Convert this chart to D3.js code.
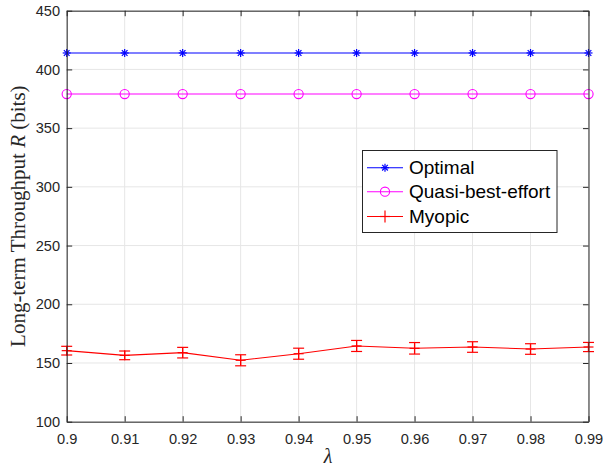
<!DOCTYPE html>
<html>
<head>
<meta charset="utf-8">
<script src="https://cdn.jsdelivr.net/npm/d3@7"></script>
<style>
  html, body { margin: 0; padding: 0; background: #fff; }
  svg { display: block; }
</style>
</head>
<body>
<svg id="chart" width="603" height="468"></svg>
<script>
// ---- data ----
const lambdas = [0.9, 0.91, 0.92, 0.93, 0.94, 0.95, 0.96, 0.97, 0.98, 0.99];
const optimal = [414, 414, 414, 414, 414, 414, 414, 414, 414, 414];
const quasiBestEffort = [379, 379, 379, 379, 379, 379, 379, 379, 379, 379];
const myopic = [160.5, 156.5, 158.8, 152.3, 157.9, 164.5, 162.5, 163.6, 161.9, 163.6];
const myopicErr = [3.7, 3.7, 4.5, 4.7, 4.7, 4.7, 4.9, 4.5, 4.5, 3.9];
const xTicks = [0.9, 0.91, 0.92, 0.93, 0.94, 0.95, 0.96, 0.97, 0.98, 0.99];
const xTickLabels = ["0.9", "0.91", "0.92", "0.93", "0.94", "0.95", "0.96", "0.97", "0.98", "0.99"];
const yTicks = [100, 150, 200, 250, 300, 350, 400, 450];
const seriesNames = ["Optimal", "Quasi-best-effort", "Myopic"];

// ---- layout ----
const L = 66.7, R = 588.5, T = 10.7, B = 421.7;
const svg = d3.select("#chart");
const x = d3.scaleLinear().domain([0.9, 0.99]).range([L, R]);
const y = d3.scaleLinear().domain([100, 450]).range([B, T]);
const axisColor = "#262626";
const gridColor = "#e6e6e6";

// grid
const grid = svg.append("g");
grid.selectAll(".gx").data(xTicks).join("line")
  .attr("x1", d => x(d)).attr("x2", d => x(d)).attr("y1", T).attr("y2", B)
  .attr("stroke", gridColor).attr("stroke-width", 1);
grid.selectAll(".gy").data(yTicks).join("line")
  .attr("x1", L).attr("x2", R).attr("y1", d => y(d)).attr("y2", d => y(d))
  .attr("stroke", gridColor).attr("stroke-width", 1);

// axes (box, ticks inward)
const tickLen = 5.5;
const xAxisB = d3.axisBottom(x).tickValues(xTicks).tickSize(-tickLen).tickSizeOuter(0)
  .tickFormat((d, i) => xTickLabels[i]).tickPadding(12);
const xAxisT = d3.axisTop(x).tickValues(xTicks).tickSize(-tickLen).tickSizeOuter(0).tickFormat("");
const yAxisL = d3.axisLeft(y).tickValues(yTicks).tickSize(-tickLen).tickSizeOuter(0).tickPadding(6.7);
const yAxisR = d3.axisRight(y).tickValues(yTicks).tickSize(-tickLen).tickSizeOuter(0).tickFormat("");

function styleAxis(g) {
  g.select(".domain").attr("stroke", axisColor).attr("stroke-width", 1);
  g.selectAll(".tick line").attr("stroke", axisColor);
  g.selectAll(".tick text").attr("fill", axisColor)
    .attr("font-family", "'Liberation Sans', Arial, sans-serif").attr("font-size", "14.6px");
}

// ---- series ----
const lineGen = d3.line().x((d, i) => x(lambdas[i])).y(d => y(d));

function star(g, cx, cy, r, color) {
  const dirs = [[1, 0], [0, 1], [0.7071, 0.7071], [0.7071, -0.7071]];
  dirs.forEach(([dx, dy]) => {
    g.append("line").attr("x1", cx - dx * r).attr("y1", cy - dy * r)
      .attr("x2", cx + dx * r).attr("y2", cy + dy * r)
      .attr("stroke", color).attr("stroke-width", 1.2);
  });
}

// Optimal
svg.append("path").datum(optimal).attr("d", lineGen)
  .attr("fill", "none").attr("stroke", "#0000ff").attr("stroke-width", 1.1);
const optG = svg.append("g");
optimal.forEach((v, i) => star(optG, x(lambdas[i]), y(v), 4, "#0000ff"));

// Quasi-best-effort
svg.append("path").datum(quasiBestEffort).attr("d", lineGen)
  .attr("fill", "none").attr("stroke", "#ff00ff").attr("stroke-width", 1.1);
svg.append("g").selectAll("circle").data(quasiBestEffort).join("circle")
  .attr("cx", (d, i) => x(lambdas[i])).attr("cy", d => y(d)).attr("r", 4.6)
  .attr("fill", "none").attr("stroke", "#ff00ff").attr("stroke-width", 1.1);

// Myopic with error bars
svg.append("path").datum(myopic).attr("d", lineGen)
  .attr("fill", "none").attr("stroke", "#ff0000").attr("stroke-width", 1.1);
const myG = svg.append("g").attr("stroke", "#ff0000").attr("stroke-width", 1.2);
myopic.forEach((v, i) => {
  const cx = x(lambdas[i]);
  const yt = y(v + myopicErr[i]), yb = y(v - myopicErr[i]), cy = y(v);
  const cw = 5.5;
  myG.append("line").attr("x1", cx).attr("x2", cx).attr("y1", yt).attr("y2", yb);
  myG.append("line").attr("x1", cx - cw).attr("x2", cx + cw).attr("y1", yt).attr("y2", yt);
  myG.append("line").attr("x1", cx - cw).attr("x2", cx + cw).attr("y1", yb).attr("y2", yb);
  // plus marker
  myG.append("line").attr("x1", cx - 5).attr("x2", cx + 5).attr("y1", cy).attr("y2", cy);
  myG.append("line").attr("x1", cx).attr("x2", cx).attr("y1", cy - 5).attr("y2", cy + 5);
});

// axes on top
svg.append("g").attr("transform", `translate(0,${B})`).call(xAxisB).call(styleAxis);
svg.append("g").attr("transform", `translate(0,${T})`).call(xAxisT).call(styleAxis);
svg.append("g").attr("transform", `translate(${L},0)`).call(yAxisL).call(styleAxis);
svg.append("g").attr("transform", `translate(${R},0)`).call(yAxisR).call(styleAxis);

// axis labels
svg.append("text")
  .attr("transform", `translate(25,${(T + B) / 2}) rotate(-90)`)
  .attr("text-anchor", "middle")
  .attr("font-family", "'Liberation Serif', 'Times New Roman', serif")
  .attr("font-size", "21px").attr("fill", axisColor)
  .html('Long-term Throughput <tspan font-style="italic">R</tspan> (bits)');
svg.append("text")
  .attr("x", 328).attr("y", 463)
  .attr("text-anchor", "middle")
  .attr("font-family", "'Liberation Serif', 'Times New Roman', serif")
  .attr("font-style", "italic")
  .attr("font-size", "20px").attr("fill", axisColor)
  .text("λ");

// ---- legend ----
const lg = svg.append("g");
lg.append("rect").attr("x", 362.5).attr("y", 150.5).attr("width", 194.5).attr("height", 82)
  .attr("fill", "#fff").attr("stroke", axisColor).attr("stroke-width", 1);
const legendY = [167.7, 191.7, 216.5];
const legendColors = ["#0000ff", "#ff00ff", "#ff0000"];
seriesNames.forEach((name, i) => {
  const ly = legendY[i];
  lg.append("line").attr("x1", 367).attr("x2", 403).attr("y1", ly).attr("y2", ly)
    .attr("stroke", legendColors[i]).attr("stroke-width", 1.1);
  const mx = 385;
  if (i === 0) star(lg, mx, ly, 4, legendColors[i]);
  else if (i === 1) lg.append("circle").attr("cx", mx).attr("cy", ly).attr("r", 4.6)
    .attr("fill", "none").attr("stroke", legendColors[i]).attr("stroke-width", 1.1);
  else {
    lg.append("line").attr("x1", mx - 5).attr("x2", mx + 5).attr("y1", ly).attr("y2", ly)
      .attr("stroke", legendColors[i]).attr("stroke-width", 1.2);
    lg.append("line").attr("x1", mx).attr("x2", mx).attr("y1", ly - 6).attr("y2", ly + 6)
      .attr("stroke", legendColors[i]).attr("stroke-width", 1.2);
  }
  lg.append("text").attr("x", 409).attr("y", ly).attr("dy", "0.35em")
    .attr("font-family", "'Liberation Sans', Arial, sans-serif").attr("font-size", "19px")
    .attr("fill", "#000").text(name);
});
</script>
</body>
</html>
